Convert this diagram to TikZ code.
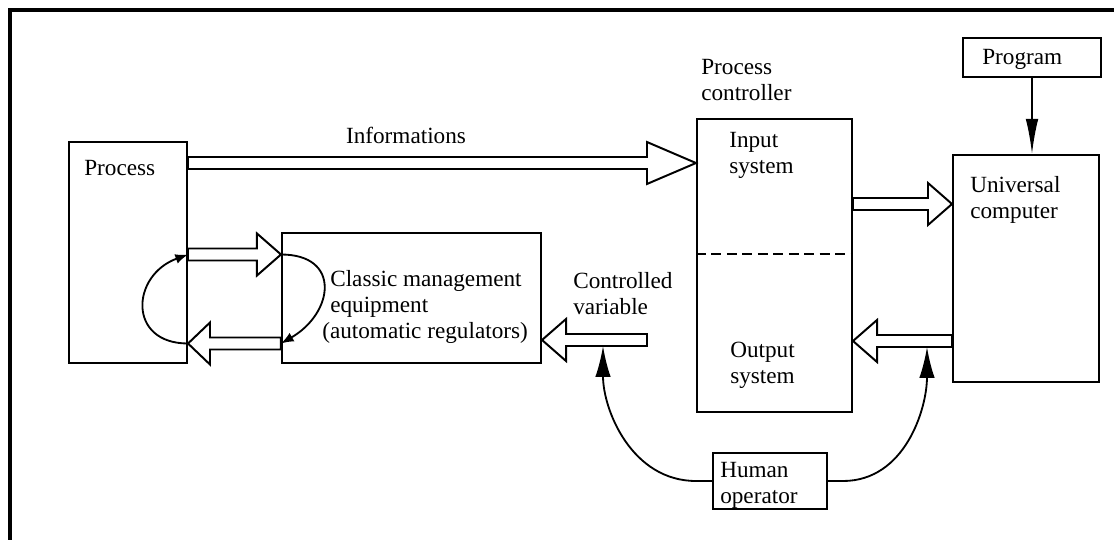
\documentclass[tikz,border=0pt]{standalone}
\usepackage{fontspec}
\setmainfont{Liberation Serif}
\usetikzlibrary{arrows.meta}
\usetikzlibrary{calc}

\tikzset{
  box/.style={draw, line width=1.4pt, inner sep=0pt},
  lbl/.style={inner sep=0pt, align=left, font=\fontsize{16.5}{18.6}\selectfont},
  fat/.style={draw, fill=white, line width=1.4pt, line join=miter},
  swing/.style={line width=1.3pt, -{Latex[length=9pt,width=7pt]}},
  opline/.style={line width=1.3pt, -{Latex[length=22pt,width=11pt]}},
  progline/.style={line width=1.4pt, -{Latex[length=25pt,width=9pt]}},
}

\newcommand{\fatarrow}[3]{%
  \draw[fat] ($(#1)+(0,-6)$) -- ($(#2)!#3!(#1)+(0,-6)$) -- ($(#2)!#3!(#1)+(0,-21)$) -- (#2)
    -- ($(#2)!#3!(#1)+(0,21)$) -- ($(#2)!#3!(#1)+(0,6)$) -- ($(#1)+(0,6)$) -- cycle;}

\begin{document}
\begin{tikzpicture}[x=0.025cm, y=-0.025cm]
            \useasboundingbox (0,0) rectangle (1114,540);
            \draw[line width=2.2pt] (10,540) -- (10,10) -- (1114,10);

            \node[box, minimum width=2.95cm, minimum height=5.525cm] (proc) at (128,252.5) {};
            \node[box, minimum width=6.475cm, minimum height=3.25cm] (clas) at (411.5,298) {};
            \node[box, minimum width=3.875cm, minimum height=7.325cm] (pctl) at (774.5,265.5) {};
            \node[box, minimum width=3.65cm, minimum height=5.675cm] (comp) at (1026,268.5) {};
            \node[box, minimum width=3.45cm, minimum height=0.975cm] (prog) at (1032,57.5) {};
            \node[box, minimum width=2.85cm, minimum height=1.4cm] (hum) at (770,481) {};

            \coordinate (yinfo) at (0,163);
            \coordinate (yup) at (0,254.5);
            \coordinate (ylow) at (0,343.5);
            \coordinate (ycomp) at (0,204);
            \coordinate (yout) at (0,341);
            \coordinate (ydash) at (0,254);
            \coordinate (cvend) at (647,340);
            \coordinate (cvtip) at (603,346);
            \coordinate (optip) at (927,347);

            \node[lbl, anchor=base west] (procl) at (84,175) {Process};
            \node[lbl, anchor=base] (infol) at (406,143) {Informations};
            \node[lbl, anchor=north west] (pctll) at (701,59) {Process\\controller};
            \node[lbl, anchor=north west] (inl) at (729,132) {Input\\system};
            \node[lbl, anchor=north west] (outl) at (730,342) {Output\\system};
            \node[lbl, anchor=north west] (compl) at (970,176) {Universal\\computer};
            \node[lbl, anchor=base west] (progl) at (982,64) {Program};
            \node[lbl, anchor=north west] (clasl) at (330,270) {Classic management\\equipment};
            \node[lbl, anchor=base west] (autol) at (322,338) {(automatic regulators)};
            \node[lbl, anchor=north west] (cvl) at (573,272) {Controlled\\variable};
            \node[lbl, anchor=north west] (huml) at (720,462) {Human\\operator};

            \draw[line width=1pt, dash pattern=on 7pt off 4pt] (pctl.west |- ydash) -- (pctl.east |- ydash);

            \fatarrow{proc.east |- yinfo}{pctl.west |- yinfo}{1.225cm}
            \fatarrow{proc.east |- yup}{clas.west |- yup}{0.6cm}
            \fatarrow{clas.west |- ylow}{proc.east |- ylow}{0.55cm}
            \fatarrow{pctl.east |- ycomp}{comp.west |- ycomp}{0.6cm}
            \fatarrow{comp.west |- yout}{pctl.east |- yout}{0.6cm}
            \fatarrow{cvend}{clas.east |- cvend}{0.6cm}

            \draw[swing] (proc.east |- ylow) to[out=180, in=200, looseness=1.75] (proc.east |- yup);
            \draw[swing] (clas.west |- yup) to[out=0, in=30, looseness=1.75] (clas.west |- ylow);

            \draw[opline] (hum.west) -- ++(-16,0) to[out=180, in=-90] (cvtip);
            \draw[opline] (hum.east) -- ++(15,0) to[out=0, in=-90] (optip);
            \draw[progline] (prog.south) -- (prog.south |- comp.north);
        \end{tikzpicture}
\end{document}
